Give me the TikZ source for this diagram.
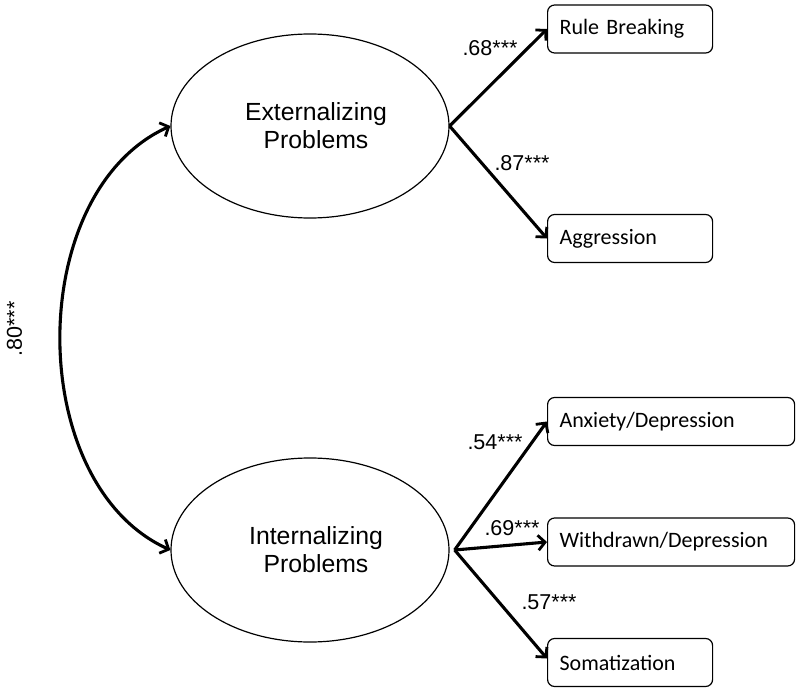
\documentclass[tikz,border=0pt]{standalone}
\usepackage{fontspec}
\setmainfont{Liberation Sans}
\newfontfamily\boxfont{Carlito}
\usetikzlibrary{arrows.meta,shapes.geometric}
\tikzset{
  latent/.style={draw, line width=1.2bp, ellipse, minimum width=278bp, minimum height=184bp, inner sep=0pt, align=center, font=\fontsize{24.8bp}{28bp}\selectfont},
  indic/.style={draw, line width=1.2bp, rounded corners=7bp, anchor=west, minimum height=48bp, inner xsep=12bp, inner ysep=0pt, align=left, font=\boxfont\fontsize{22bp}{26bp}\selectfont},
  smallbox/.style={indic, text width=141bp},
  widebox/.style={indic, text width=223bp},
  path/.style={line width=3.1bp, -{Straight Barb[length=7bp,width=15bp,line width=2.8bp]}},
  corr/.style={line width=3.1bp, {Straight Barb[length=7bp,width=15bp,line width=2.8bp]}-{Straight Barb[length=7bp,width=15bp,line width=2.8bp]}},
  load/.style={font=\fontsize{21.5bp}{24bp}\selectfont, inner sep=0pt}
}
\begin{document}
\begin{tikzpicture}[x=1bp,y=-1bp]
\useasboundingbox (0,0) rectangle (800,692);
\node[latent] (ext) at (310,126) {\hspace*{12bp}Externalizing\\\hspace*{12bp}Problems};
\node[latent] (int) at (310,550) {\hspace*{12bp}Internalizing\\\hspace*{12bp}Problems};
\node[smallbox] (rb) at (547,29) {Rule Breaking};
\node[smallbox] (ag) at (547,238.5) {Aggression};
\node[widebox] (ax) at (547,421.5) {Anxiety/Depression};
\node[widebox] (wd) at (547,542) {Withdrawn/Depression};
\node[smallbox] (so) at (547,662.5) {Somatization};
\coordinate (ef) at (ext.east);
\coordinate (if) at ([xshift=5bp]int.east);
\draw[path] (ef) -- (rb.west);
\draw[path] (ef) -- (ag.west);
\draw[path] (if) -- (ax.west);
\draw[path] (if) -- (wd.west);
\draw[path] (if) -- ([yshift=4bp]so.west);
\draw[corr] (ext.west) .. controls (24,192) and (24,484) .. (int.west);
\node[load] (l1) at (490,48) {.68***};
\node[load] (l2) at (522,163) {.87***};
\node[load] (l3) at (495,442) {.54***};
\node[load] (l4) at (512,528) {.69***};
\node[load] (l5) at (549,602) {.57***};
\node[load, rotate=90] (l6) at (14.5,329) {.80***};
\end{tikzpicture}
\end{document}
